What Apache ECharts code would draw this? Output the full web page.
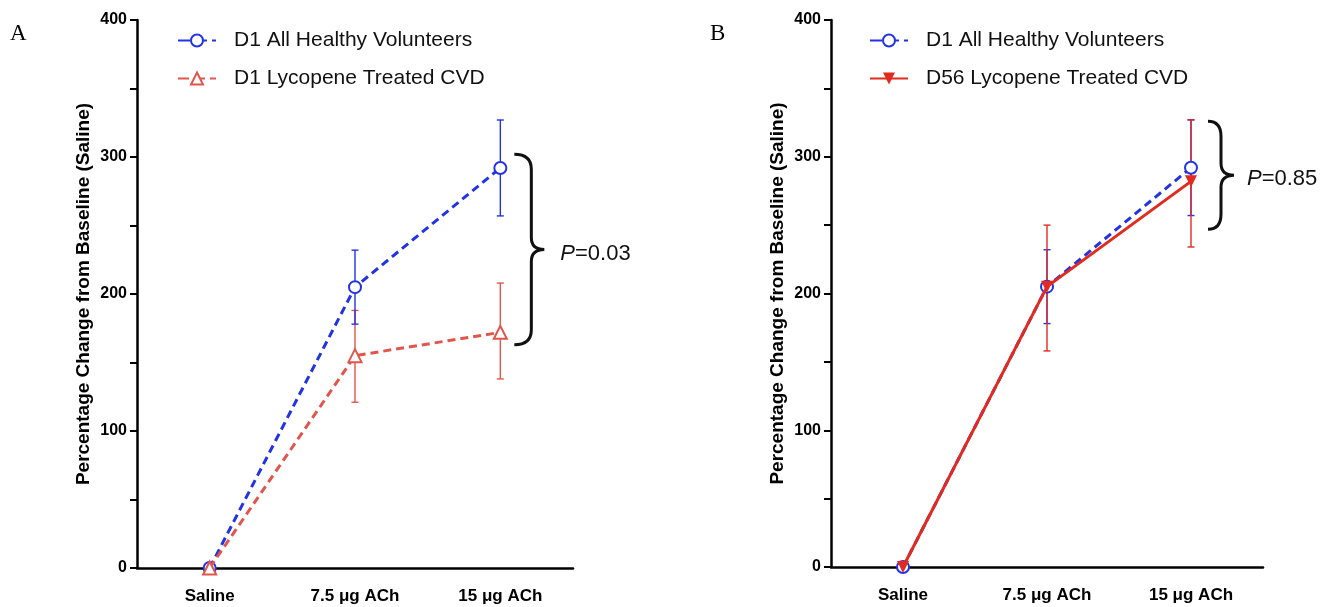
<!DOCTYPE html>
<html>
<head>
<meta charset="utf-8">
<script src="https://cdn.jsdelivr.net/npm/echarts@6/dist/echarts.min.js"></script>
<style>
html,body{margin:0;padding:0;background:#fff;}
#c{width:1324px;height:607px;}
</style>
</head>
<body>
<div id="c"></div>
<script>
// ---- data ----
const categories = ['Saline', '7.5 \u03bcg ACh', '15 \u03bcg ACh'];
const yTicks = [0, 100, 200, 300, 400];

const healthyD1Mean = [0, 205, 292];
const healthyD1Low  = [0, 178, 257];
const healthyD1High = [0, 232, 327];

const lycoD1Mean = [0, 155, 172];
const lycoD1Low  = [0, 121, 138];
const lycoD1High = [0, 188, 208];

const lycoD56Mean = [0, 205, 282];
const lycoD56Low  = [0, 158, 234];
const lycoD56High = [0, 250, 327];

const nameHealthy = 'D1 All Healthy Volunteers';
const nameLycoD1 = 'D1 Lycopene Treated CVD';
const nameLycoD56 = 'D56 Lycopene Treated CVD';

const braceA = [2, 302, 163];   // category, top value, bottom value
const braceB = [2, 326, 247];
const pA = '0.03';
const pB = '0.85';

// ---- styles ----
const BLUE = '#2233e6';
const RED_A = '#e0564c';
const RED_B = '#e22a1e';
const FONT = 'Liberation Sans, Arial, Helvetica, sans-serif';

function errData(lo, hi) {
  return categories.map((c, i) => [i, lo[i], hi[i]]).filter(d => d[1] !== d[2]);
}

function errRender(color) {
  return function (params, api) {
    const x = api.value(0);
    const p1 = api.coord([x, api.value(1)]);
    const p2 = api.coord([x, api.value(2)]);
    const w = 3.5;
    const st = { stroke: color, lineWidth: 1.4 };
    return {
      type: 'group',
      children: [
        { type: 'line', shape: { x1: p1[0], y1: p1[1], x2: p2[0], y2: p2[1] }, style: st },
        { type: 'line', shape: { x1: p1[0] - w, y1: p1[1], x2: p1[0] + w, y2: p1[1] }, style: st },
        { type: 'line', shape: { x1: p2[0] - w, y1: p2[1], x2: p2[0] + w, y2: p2[1] }, style: st }
      ]
    };
  };
}

function braceRender(pText, off) {
  return function (params, api) {
    const x = api.value(0);
    const t = api.coord([x, api.value(1)]);
    const b = api.coord([x, api.value(2)]);
    const xL = t[0] + off[0], xV = t[0] + off[1], xT = t[0] + off[2];
    const yT = t[1], yB = b[1], yM = (yT + yB) / 2;
    const r = 15, rt = 12;
    const d = `M${xL},${yT} Q${xV},${yT} ${xV},${yT + r} L${xV},${yM - rt} Q${xV},${yM} ${xT},${yM} ` +
              `Q${xV},${yM} ${xV},${yM + rt} L${xV},${yB - r} Q${xV},${yB} ${xL},${yB}`;
    return {
      type: 'group',
      children: [
        { type: 'path', shape: { pathData: d }, style: { stroke: '#111', fill: 'none', lineWidth: 3 } },
        { type: 'text', x: t[0] + off[3], y: yM + 4,
          style: { text: '{i|P}=' + pText, fill: '#111', font: '22px ' + FONT,
                   verticalAlign: 'middle', align: 'left',
                   rich: { i: { fontStyle: 'italic', fontSize: 22, fontFamily: FONT, fill: '#111' } } } }
      ]
    };
  };
}

function yAxis(gi) {
  return {
    gridIndex: gi, type: 'value', min: 0, max: 400, interval: 50,
    name: 'Percentage Change from Baseline (Saline)', nameLocation: 'middle', nameGap: 44, nameRotate: 90,
    nameTextStyle: { fontFamily: FONT, fontWeight: 'bold', fontSize: 19, color: '#000' },
    axisLine: { show: true, lineStyle: { color: '#000', width: 2.5 } },
    axisTick: { show: true, length: 7, lineStyle: { color: '#000', width: 2 } },
    axisLabel: { margin: 10, fontFamily: FONT, fontWeight: 'bold', fontSize: 16, color: '#000',
      formatter: v => (yTicks.indexOf(v) >= 0 ? String(v) : '') },
    splitLine: { show: false }
  };
}
function xAxis(gi) {
  return {
    gridIndex: gi, type: 'category', data: categories, boundaryGap: true,
    axisLine: { lineStyle: { color: '#000', width: 2.5 } },
    axisTick: { alignWithLabel: true, length: 7, lineStyle: { color: '#000', width: 2 } },
    axisLabel: { margin: 20, fontFamily: FONT, fontWeight: 'bold', fontSize: 17, color: '#000' }
  };
}

function legendCfg(left, names) {
  return {
    data: names, orient: 'vertical', left: left, top: 25, itemWidth: 38, itemHeight: 15, itemGap: 17,
    textStyle: { fontFamily: FONT, fontSize: 21, color: '#111', padding: [0, 0, 0, 13] }, selectedMode: false
  };
}

const chart = echarts.init(document.getElementById('c'), null, { renderer: 'canvas' });
chart.setOption({
  animation: false,
  backgroundColor: '#fff',
  grid: [
    { left: 137, top: 20, width: 436, height: 548 },
    { left: 831, top: 20, width: 432, height: 547 }
  ],
  xAxis: [xAxis(0), xAxis(1)],
  yAxis: [yAxis(0), yAxis(1)],
  legend: [
    legendCfg(172, [{ name: nameHealthy, lineStyle: { type: [12, 5] } }, { name: nameLycoD1, lineStyle: { type: [11, 5] } }]),
    legendCfg(864, [{ name: nameHealthy, lineStyle: { type: [12, 5] } }, { name: nameLycoD56 }])
  ],
  graphic: [
    { type: 'text', left: 10, top: 22, style: { text: 'A', font: '23px Liberation Serif, Times New Roman, serif', fill: '#000' } },
    { type: 'text', left: 710, top: 22, style: { text: 'B', font: '23px Liberation Serif, Times New Roman, serif', fill: '#000' } }
  ],
  series: [
    // Panel A
    { type: 'custom', xAxisIndex: 0, yAxisIndex: 0, renderItem: errRender(RED_A), data: errData(lycoD1Low, lycoD1High), clip: false, z: 1, silent: true },
    { type: 'custom', xAxisIndex: 0, yAxisIndex: 0, renderItem: errRender(BLUE), data: errData(healthyD1Low, healthyD1High), clip: false, z: 1, silent: true },
    { name: nameHealthy, type: 'line', xAxisIndex: 0, yAxisIndex: 0, data: healthyD1Mean,
      symbol: 'emptyCircle', symbolSize: 12, clip: false, z: 3,
      lineStyle: { color: BLUE, width: 3, type: [8, 5] }, itemStyle: { color: BLUE, borderWidth: 2.5 } },
    { name: nameLycoD1, type: 'line', xAxisIndex: 0, yAxisIndex: 0, data: lycoD1Mean,
      symbol: 'emptyTriangle', symbolSize: 13, clip: false, z: 4,
      lineStyle: { color: RED_A, width: 3, type: [8, 5] }, itemStyle: { color: RED_A, borderWidth: 2.5 } },
    { type: 'custom', xAxisIndex: 0, yAxisIndex: 0, renderItem: braceRender(pA, [14, 31, 44, 60]), data: [braceA], clip: false, silent: true },
    // Panel B
    { type: 'custom', xAxisIndex: 1, yAxisIndex: 1, renderItem: errRender(BLUE), data: errData(healthyD1Low, healthyD1High), clip: false, z: 1, silent: true },
    { type: 'custom', xAxisIndex: 1, yAxisIndex: 1, renderItem: errRender(RED_B), data: errData(lycoD56Low, lycoD56High), clip: false, z: 1, silent: true },
    { name: nameHealthy, type: 'line', xAxisIndex: 1, yAxisIndex: 1, data: healthyD1Mean,
      symbol: 'emptyCircle', symbolSize: 12, clip: false, z: 3,
      lineStyle: { color: BLUE, width: 3, type: [8, 5] }, itemStyle: { color: BLUE, borderWidth: 2.5 } },
    { name: nameLycoD56, type: 'line', xAxisIndex: 1, yAxisIndex: 1, data: lycoD56Mean,
      symbol: 'triangle', symbolRotate: 180, symbolSize: 12, clip: false, z: 4,
      lineStyle: { color: RED_B, width: 3 }, itemStyle: { color: RED_B } },
    { type: 'custom', xAxisIndex: 1, yAxisIndex: 1, renderItem: braceRender(pB, [17, 30, 43, 56]), data: [braceB], clip: false, silent: true }
  ]
});
</script>
</body>
</html>
